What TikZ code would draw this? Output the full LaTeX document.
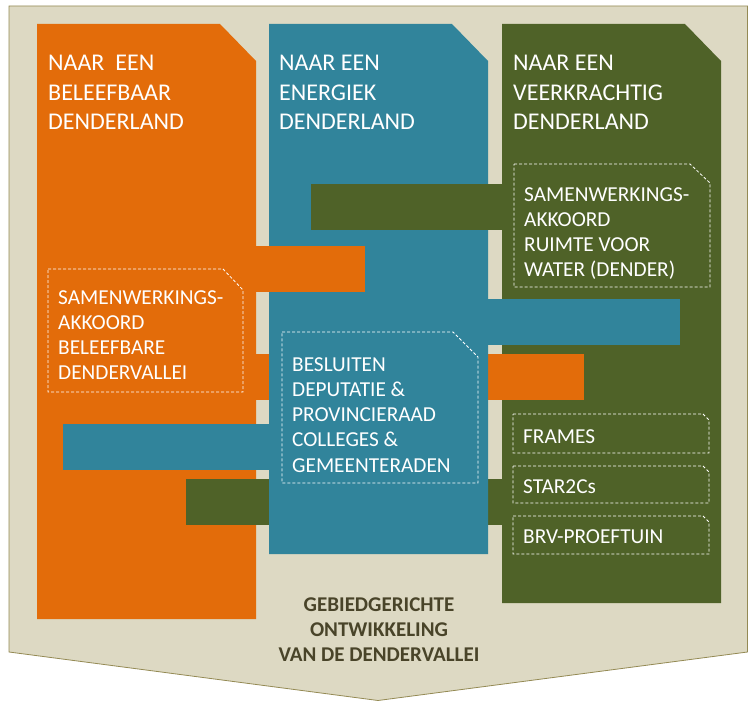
\documentclass[tikz,border=0pt]{standalone}
\usepackage{fontspec}
\setmainfont{Carlito}
\usepackage{tikz}
\usetikzlibrary{positioning}
\usepackage{xcolor}
\definecolor{dvorange}{HTML}{E36C0A}
\definecolor{dvblue}{HTML}{31849B}
\definecolor{dvgreen}{HTML}{4F6228}
\definecolor{dvtan}{HTML}{DDD9C3}
\definecolor{dvrim}{HTML}{948A54}
\definecolor{dvtext}{HTML}{494429}

\begin{document}
\begin{tikzpicture}[
    x=1pt, y=-1pt,
    title/.style={anchor=north west, inner sep=0pt, align=left, text=white,
                  font=\fontsize{24}{29.5}\selectfont},
    note/.style={anchor=north west, inner sep=0pt, align=left, text=white,
                 font=\fontsize{21.3}{25.3}\selectfont},
    tag/.style={anchor=west, inner sep=0pt, text=white,
                font=\fontsize{21.3}{25.3}\selectfont},
    dashbox/.style={draw=white, line width=0.8pt, dash pattern=on 3pt off 2pt}
  ]
    \useasboundingbox (0,0) rectangle (748,701);
    % achtergrond
    \filldraw[fill=dvtan, draw=dvrim, line width=0.8pt]
      (9,6) -- (747.5,6) -- (747.5,652) -- (378,700.5) -- (9,652) -- cycle;
    % kolommen en banden
    \fill[dvorange] (37,24) -- (220,24) -- (256,61) -- (256,619) -- (37,619) -- cycle;
    \fill[dvgreen] (502,24) -- (685,24) -- (721,61) -- (721,603) -- (502,603) -- cycle;
    \fill[dvorange] (250,354) rectangle (584,400);
    \fill[dvgreen] (186,479) rectangle (505,525);
    \fill[dvblue] (269,24) -- (452,24) -- (488,61) -- (488,554) -- (269,554) -- cycle;
    \fill[dvgreen] (311,184) rectangle (505,230);
    \fill[dvorange] (250,246) rectangle (365,292);
    \fill[dvblue] (485,299) rectangle (680,345);
    \fill[dvblue] (63,424) rectangle (272,470);
    % titels
    \node[title] (beleef) at (48,55) {NAAR\ \ EEN\\BELEEFBAAR\\DENDERLAND};
    \node[title] (energ) at (279,55) {NAAR EEN\\ENERGIEK\\DENDERLAND};
    \node[title] (veerkr) at (513,55) {NAAR EEN\\VEERKRACHTIG\\DENDERLAND};
    % kaders
    \draw[dashbox] (514,164) -- (690,164) -- (710,183) -- (710,287) -- (514,287) -- cycle;
    \draw[dashbox] (48,269) -- (223,269) -- (243,290) -- (243,392) -- (48,392) -- cycle;
    \draw[dashbox] (282,332) -- (453,332) -- (478,357) -- (478,483) -- (282,483) -- cycle;
    \draw[dashbox] (513,414) -- (703,414) -- (709,420) -- (709,453) -- (513,453) -- cycle;
    \draw[dashbox] (513,466) -- (703,466) -- (709,472) -- (709,503) -- (513,503) -- cycle;
    \draw[dashbox] (513,516) -- (703,516) -- (709,522) -- (709,554) -- (513,554) -- cycle;
    \node[note] (water) at (524,187) {SAMENWERKINGS-\\AKKOORD\\RUIMTE VOOR\\WATER (DENDER)};
    \node[note] (vallei) at (58,290) {SAMENWERKINGS-\\AKKOORD\\BELEEFBARE\\DENDERVALLEI};
    \node[note] (besluit) at (292,357) {BESLUITEN\\DEPUTATIE \&\\PROVINCIERAAD\\COLLEGES \&\\GEMEENTERADEN};
    \node[tag] (frames) at (523,437) {FRAMES};
    \node[tag] (star) at (523,487) {STAR2Cs};
    \node[tag] (brv) at (523,537) {BRV-PROEFTUIN};
    % onderschrift
    \node[anchor=north, inner sep=0pt, align=center, text=dvtext,
          font=\fontsize{21}{25}\selectfont\bfseries] (gebied) at (379,598)
      {GEBIEDGERICHTE\\ONTWIKKELING\\VAN DE DENDERVALLEI};
\end{tikzpicture}
\end{document}
